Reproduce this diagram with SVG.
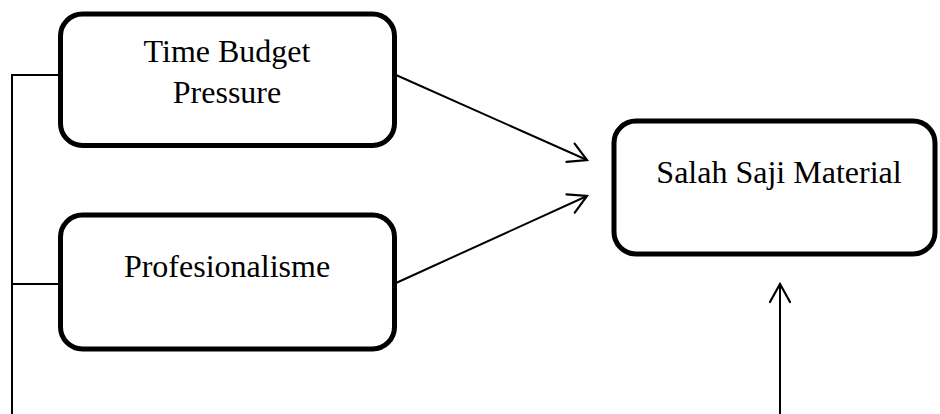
<svg xmlns="http://www.w3.org/2000/svg" width="940" height="414" viewBox="0 0 940 414">
<defs>
<marker id="arr" viewBox="0 0 24 24" refX="22" refY="12" markerWidth="24" markerHeight="24" markerUnits="userSpaceOnUse" orient="auto">
<path d="M4,2 L22,12 L4,22" fill="none" stroke="#000" stroke-width="2.2" stroke-linecap="round" stroke-linejoin="miter"/>
</marker>
<style>
.box{fill:#fff;stroke:#000;stroke-width:5}
.lbl{font-family:"Liberation Serif","Times New Roman",serif;font-size:32px;fill:#000;text-anchor:middle}
.ln{fill:none;stroke:#000;stroke-width:2}
</style>
</defs>
<rect width="940" height="414" fill="#fff"/>
<g id="connectors">
<polyline class="ln" points="60,75 12,75 12,414"/>
<line class="ln" x1="12" y1="284" x2="60" y2="284"/>
<line class="ln" x1="396" y1="75" x2="587" y2="160" marker-end="url(#arr)"/>
<line class="ln" x1="396" y1="283" x2="587" y2="196" marker-end="url(#arr)"/>
<line class="ln" x1="780" y1="414" x2="780" y2="284" marker-end="url(#arr)"/>
</g>
<g id="time-budget-pressure">
<rect class="box" x="60.5" y="14" width="334" height="131.5" rx="22"/>
<text class="lbl" x="227" y="62">Time Budget</text>
<text class="lbl" x="227" y="103">Pressure</text>
</g>
<g id="profesionalisme">
<rect class="box" x="60.5" y="215" width="334" height="134" rx="22"/>
<text class="lbl" x="227" y="277">Profesionalisme</text>
</g>
<g id="salah-saji-material">
<rect class="box" x="614" y="121" width="321" height="133" rx="22"/>
<text class="lbl" x="779" y="183">Salah Saji Material</text>
</g>
</svg>
